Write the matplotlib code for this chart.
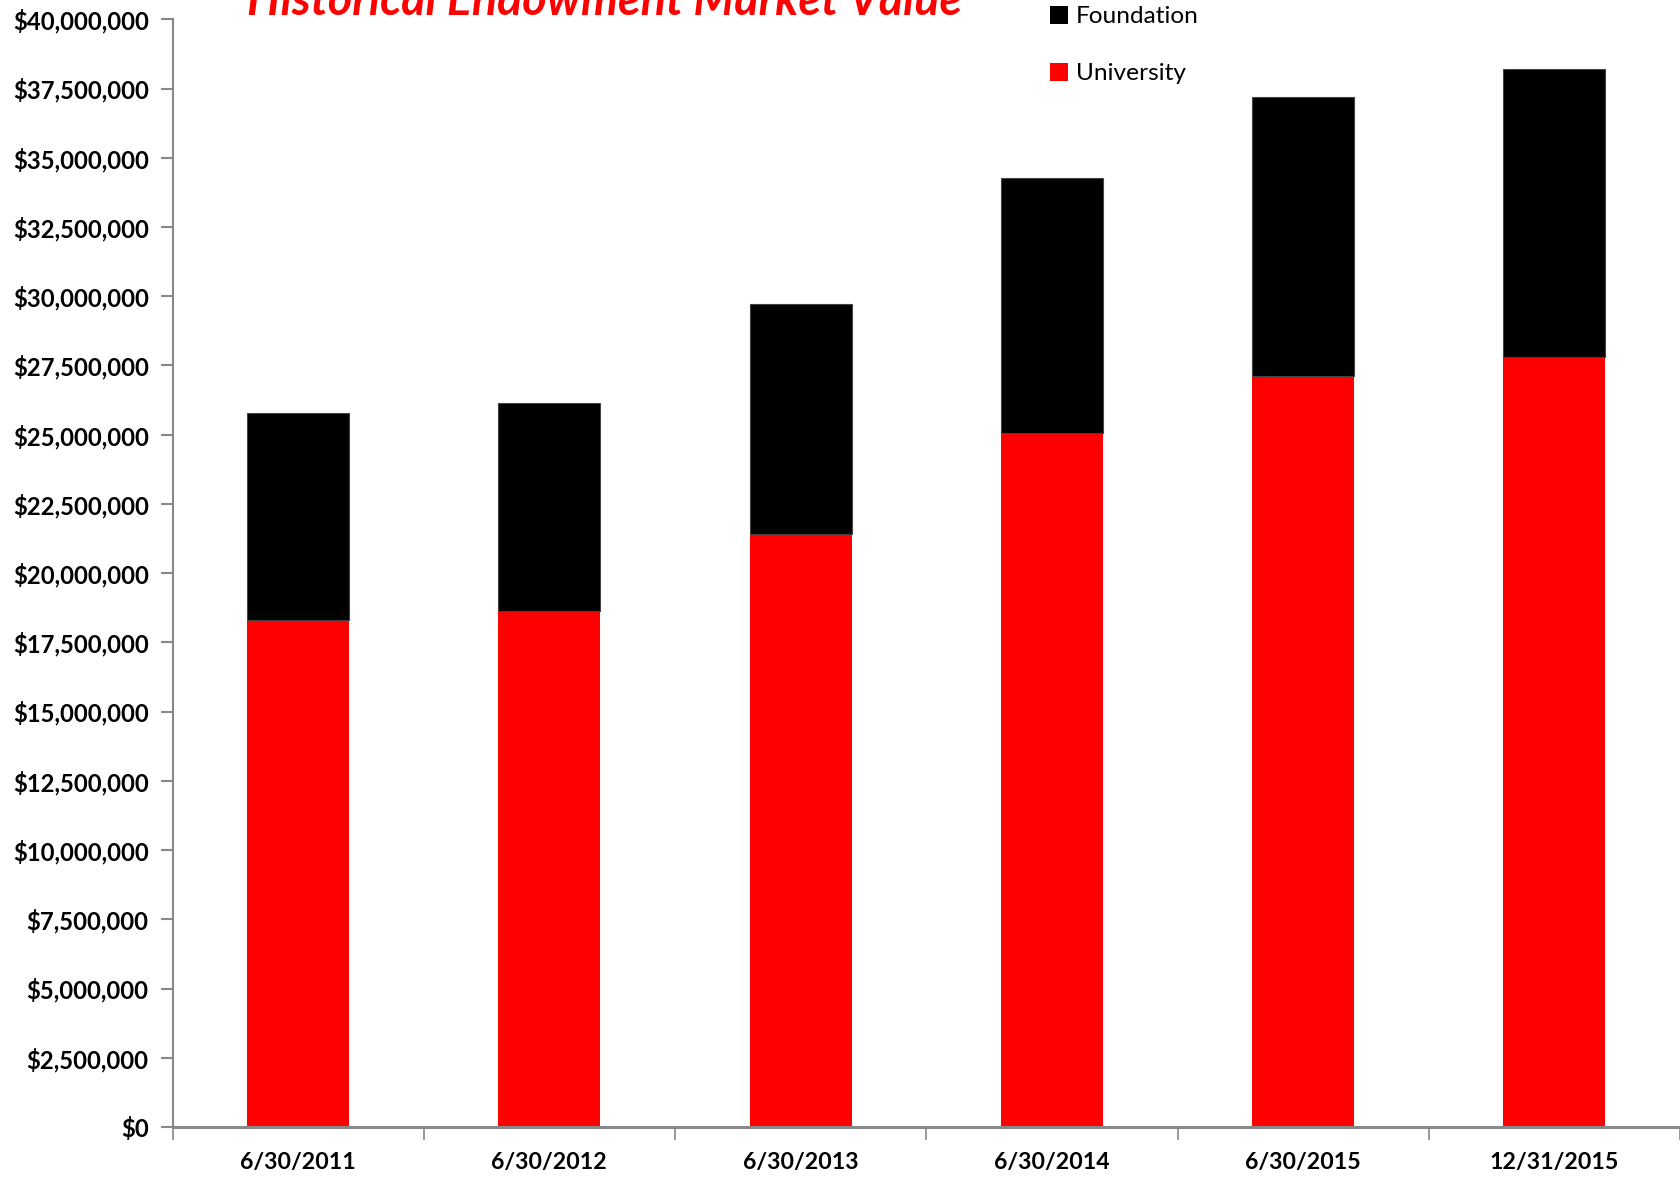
import matplotlib
matplotlib.use("Agg")
import matplotlib.pyplot as plt
from matplotlib.patches import Patch
from matplotlib.ticker import FuncFormatter, MultipleLocator, FixedLocator
import numpy as np

categories = ["6/30/2011", "6/30/2012", "6/30/2013", "6/30/2014", "6/30/2015", "12/31/2015"]
university = [18.30e6, 18.65e6, 21.43e6, 25.07e6, 27.12e6, 27.81e6]
foundation = [7.50e6, 7.50e6, 8.28e6, 9.20e6, 10.06e6, 10.41e6]

FONT = ['Lato', 'DejaVu Sans']
plt.rcParams['font.family'] = FONT

fig = plt.figure(figsize=(16.8, 11.77), dpi=100)
renderer = fig.canvas.get_renderer()


def fit_size(s, target_px, weight='normal', style='normal'):
    t = fig.text(0, 0, s, fontsize=20, fontweight=weight, fontstyle=style)
    wpx = t.get_window_extent(renderer).width
    t.remove()
    return 20 * target_px / wpx


ysize = fit_size("$40,000,000", 137, weight='bold')
xsize = fit_size("12/31/2015", 129, weight='bold')
tsize = fit_size("Historical Endowment Market Value", 714, weight='bold', style='italic')
lsize = fit_size("Foundation", 123)

ax = fig.add_axes([172.5 / 1680, 50 / 1177, 1 - 172.5 / 1680, 1 - 50 / 1177 - 19.3 / 1177])

x = np.arange(len(categories))
w = 0.405
ax.bar(x, university, width=w, color='#ff0000', edgecolor='none', zorder=2)
ax.bar(x, foundation, width=w, bottom=university, color='#000000', edgecolor='#444444', linewidth=0.8, zorder=2)

ax.set_xlim(-0.5, len(categories) - 0.5)
ax.set_ylim(0, 40e6)
ax.yaxis.set_major_locator(MultipleLocator(2.5e6))
ax.yaxis.set_major_formatter(FuncFormatter(lambda v, p: "${:,.0f}".format(v)))

ax.set_xticks(x)
ax.set_xticklabels(categories)
ax.xaxis.set_minor_locator(FixedLocator(np.arange(-0.5, len(categories), 1.0)))
ax.tick_params(axis='x', which='major', length=0, pad=18, labelsize=xsize)
ax.tick_params(axis='x', which='minor', length=9.3, width=1.2, color='#888888', direction='out')
ax.tick_params(axis='y', which='major', length=8.6, width=1.5, color='#888888', direction='out',
               labelsize=ysize, pad=8.6)
for lab in ax.get_xticklabels() + ax.get_yticklabels():
    lab.set_fontweight('bold')

for s in ['top', 'right']:
    ax.spines[s].set_visible(False)
ax.spines['left'].set_color('#888888')
ax.spines['left'].set_linewidth(1.5)
ax.spines['bottom'].set_color('#888888')
ax.spines['bottom'].set_linewidth(2.2)
ax.spines['bottom'].set_zorder(3)

fig.text(605 / 1680, 1 - 15 / 1177, "Historical Endowment Market Value", color='#ff0000',
         fontsize=tsize, fontweight='bold', fontstyle='italic', ha='center', va='baseline')

handles = [Patch(facecolor='#000000', edgecolor='none'), Patch(facecolor='#ff0000', edgecolor='none')]
ax.legend(handles, ["Foundation", "University"], loc='upper left',
          bbox_to_anchor=(1050 / 1680, 1 - 6 / 1177), bbox_transform=fig.transFigure,
          frameon=False, fontsize=lsize, handlelength=0.75, handleheight=0.75,
          handletextpad=0.3, labelspacing=1.45, borderaxespad=0, borderpad=0)

fig.savefig("out.png", dpi=100, facecolor='white')
